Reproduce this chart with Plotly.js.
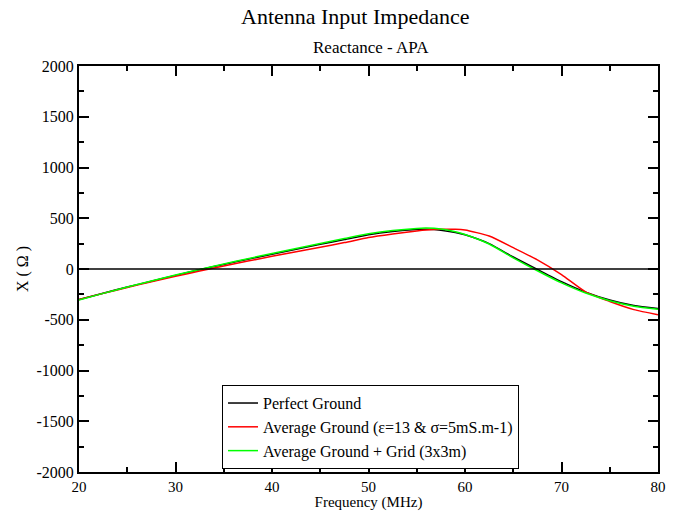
<!DOCTYPE html>
<html>
<head>
<meta charset="utf-8">
<script src="https://cdn.plot.ly/plotly-3.0.1.min.js"></script>
<style>html,body{margin:0;padding:0;background:#fff;}#chart{width:678px;height:511px;}</style>
</head>
<body>
<div id="chart"></div>
<script>
const freq = [20, 22.5, 25, 27.5, 30, 32.5, 35, 37.5, 40, 42.5, 45, 47.5, 50, 52.5, 55, 56, 57.5, 59, 60, 62.5, 65, 67.5, 70, 72.5, 75, 77.5, 80];
const perfectGround = [-300, -238, -178, -120, -63, -8, 45, 96, 146, 195, 243, 290, 338, 370, 389, 391, 383, 360, 337, 250, 118, -5, -125, -228, -305, -360, -390];
const averageGround = [-300, -240, -182, -126, -72, -20, 30, 78, 125, 170, 215, 260, 310, 345, 375, 384, 391, 392, 384, 325, 210, 90, -55, -225, -320, -400, -450];
const gridGround = [-305, -240, -178, -118, -60, -4, 50, 102, 153, 203, 252, 300, 347, 380, 400, 403, 394, 367, 340, 246, 110, -17, -137, -237, -312, -366, -396];
const names = ["Perfect Ground", "Average Ground (\u03b5=13 & \u03c3=5mS.m-1)", "Average Ground + Grid (3x3m)"];
const colors = ["#000000", "#ff0000", "#00ff00"];
const series = [perfectGround, averageGround, gridGround];
const xTicks = [20, 30, 40, 50, 60, 70, 80];
const yTicks = [-2000, -1500, -1000, -500, 0, 500, 1000, 1500, 2000];

const font = "Liberation Serif, Times New Roman, serif";
const traces = series.map((s, i) => ({
  x: freq, y: s, type: "scatter", mode: "lines", name: names[i],
  line: {color: colors[i], width: 1.5, shape: "spline", smoothing: 0.6}
}));

function axisCommon(fs) {
  return {
    showgrid: false, showline: true, linecolor: "#000", linewidth: 2,
    mirror: "allticks", ticks: "inside", ticklen: 10, tickwidth: 2, tickcolor: "#000",
    tickfont: {family: font, size: fs, color: "#000"},
    zeroline: false
  };
}

const layout = {
  width: 678, height: 511,
  margin: {l: 79, r: 20, t: 66, b: 39},
  paper_bgcolor: "#fff", plot_bgcolor: "#fff",
  showlegend: true,
  font: {family: font, color: "#000"},
  xaxis: Object.assign(axisCommon(15), {
    range: [20, 80], tickmode: "array", tickvals: xTicks, ticktext: xTicks.map(String),
    minor: {dtick: 5, tick0: 20, ticks: "inside", ticklen: 5, tickwidth: 2, tickcolor: "#000"},
    title: {text: "Frequency (MHz)", font: {family: font, size: 15, color: "#000"}, standoff: 2}
  }),
  yaxis: Object.assign(axisCommon(16), {
    range: [-2000, 2000], tickmode: "array", tickvals: yTicks, ticktext: yTicks.map(v => String(v)),
    minor: {dtick: 250, tick0: 0, ticks: "inside", ticklen: 5, tickwidth: 2, tickcolor: "#000"},
    title: {text: "X ( \u03a9 )", font: {family: font, size: 16, color: "#000"}, standoff: 4}
  }),
  shapes: [{type: "line", xref: "paper", x0: 0, x1: 1, yref: "y", y0: 0, y1: 0, line: {color: "#000", width: 1.5}}],
  annotations: [
    {text: "Antenna Input Impedance", xref: "paper", yref: "paper", x: 0.476, y: 1, yshift: 50, showarrow: false, xanchor: "center", yanchor: "middle", font: {family: font, size: 22, color: "#000"}},
    {text: "Reactance - APA", xref: "paper", yref: "paper", x: 0.5035, y: 1, yshift: 19, showarrow: false, xanchor: "center", yanchor: "middle", font: {family: font, size: 17, color: "#000"}}
  ],
  legend: {
    x: 0.247, y: 0.214, xanchor: "left", yanchor: "top",
    bgcolor: "#fff", bordercolor: "#000", borderwidth: 1,
    font: {family: font, size: 16, color: "#000"},
    tracegroupgap: 0, itemwidth: 30
  }
};

Plotly.newPlot("chart", traces, layout, {displayModeBar: false, staticPlot: true});
</script>
</body>
</html>
